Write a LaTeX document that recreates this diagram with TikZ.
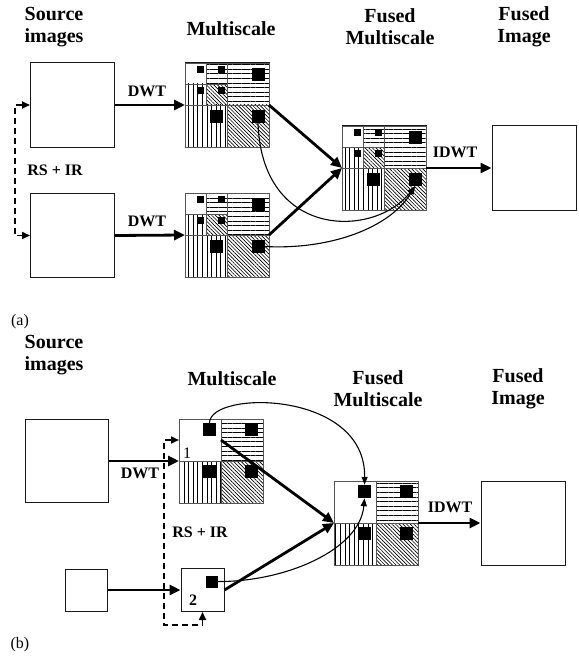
\documentclass[tikz,border=0pt]{standalone}
\usepackage{fontspec}
\setmainfont{Liberation Serif}
\usepackage{xcolor}
\definecolor{Edge}{HTML}{555555}
\definecolor{Ink}{HTML}{1A1A1A}
\usepackage{tikz}
\usetikzlibrary{arrows.meta,patterns.meta}

% two-level decomposition: name, left, top
\newcommand{\gridtwo}[3]{%
  \node[gridframe,minimum size=84pt] (#1) at ({#2+42},{#3+42}) {};
  \node[cell,minimum size=21pt] (#1-ll) at ({#2+10.5},{#3+10.5}) {};
  \node[hcell,minimum size=21pt] (#1-hl2) at ({#2+31.5},{#3+10.5}) {};
  \node[vcell,minimum size=21pt] (#1-lh2) at ({#2+10.5},{#3+31.5}) {};
  \node[dcell,minimum size=21pt] (#1-hh2) at ({#2+31.5},{#3+31.5}) {};
  \node[hcell,minimum size=42pt] (#1-hl1) at ({#2+63},{#3+21}) {};
  \node[vcell,minimum size=42pt] (#1-lh1) at ({#2+21},{#3+63}) {};
  \node[dcell,minimum size=42pt] (#1-hh1) at ({#2+63},{#3+63}) {};
  \node[sqsmall] (#1-sll) at ({#2+15.5},{#3+6.5}) {};
  \node[sqsmall] (#1-shl2) at ({#2+36.5},{#3+6.5}) {};
  \node[sqsmall] (#1-slh2) at ({#2+15.5},{#3+27.5}) {};
  \node[sqsmall] (#1-shh2) at ({#2+36.5},{#3+27.5}) {};
  \node[sqbig] (#1-shl1) at ({#2+73},{#3+11.5}) {};
  \node[sqbig] (#1-slh1) at ({#2+31},{#3+53.5}) {};
  \node[sqbig] (#1-shh1) at ({#2+73},{#3+53.5}) {};
}
% one-level decomposition: name, left, top
\newcommand{\gridone}[3]{%
  \node[gridframe,minimum size=84pt] (#1) at ({#2+42},{#3+42}) {};
  \node[cell,minimum size=42pt] (#1-ll) at ({#2+21},{#3+21}) {};
  \node[hcell,minimum size=42pt] (#1-hl) at ({#2+63},{#3+21}) {};
  \node[vcell,minimum size=42pt] (#1-lh) at ({#2+21},{#3+63}) {};
  \node[dcell,minimum size=42pt] (#1-hh) at ({#2+63},{#3+63}) {};
  \node[sqbig] (#1-sll) at ({#2+30.5},{#3+10.5}) {};
  \node[sqbig] (#1-shl) at ({#2+72.5},{#3+10.5}) {};
  \node[sqbig] (#1-slh) at ({#2+30.5},{#3+52.5}) {};
  \node[sqbig] (#1-shh) at ({#2+72.5},{#3+52.5}) {};
}

\begin{document}
\begin{tikzpicture}[x=1pt,y=-1pt,
  heading/.style={font=\fontsize{20}{22}\selectfont\bfseries,align=center,inner sep=0pt},
  tag/.style={font=\fontsize{16}{18}\selectfont\bfseries,inner sep=0pt},
  caption/.style={font=\fontsize{16}{18}\selectfont,inner sep=0pt},
  imgbox/.style={draw=Ink,line width=1pt,fill=white,inner sep=0pt,minimum size=84pt},
  gridframe/.style={draw=Ink,line width=1pt,inner sep=0pt,outer sep=0pt},
  cell/.style={draw=Edge,line width=0.9pt,inner sep=0pt,outer sep=0pt},
  hcell/.style={cell,pattern={Lines[angle=0,distance=4.6pt,line width=0.7pt]}},
  vcell/.style={cell,pattern={Lines[angle=90,distance=4.6pt,line width=0.7pt]}},
  dcell/.style={cell,pattern={Lines[angle=-45,distance=2.6pt,line width=0.65pt]}},
  sqsmall/.style={fill=black,inner sep=0pt,minimum size=7pt},
  sqbig/.style={fill=black,inner sep=0pt,minimum size=13pt},
  arrow/.style={-{Triangle[length=11pt,width=10pt]},line width=2.8pt},
  thinarrow/.style={-{Triangle[length=8pt,width=6pt]},line width=1.1pt},
  dasharrow/.style={{Triangle[length=8pt,width=7pt]}-{Triangle[length=8pt,width=7pt]},line width=1.8pt,dash pattern=on 6pt off 4pt}
]
  \useasboundingbox (0,0) rectangle (578,658);

  % (a)
  \node[heading] (srcHeadA) at (54,27) {Source\\images};
  \node[heading] (msHeadA) at (231,29) {Multiscale};
  \node[heading] (fmsHeadA) at (390,27) {Fused\\Multiscale};
  \node[heading] (fimHeadA) at (524,27) {Fused\\Image};

  \node[imgbox] (srcA1) at (72.5,105) {};
  \node[imgbox] (srcA2) at (72.5,235.5) {};
  \gridtwo{a1}{185}{63}
  \gridtwo{a2}{185}{193}
  \gridtwo{fA}{342}{126}
  \node[imgbox] (fimgA) at (534,168) {};

  \node[tag] (dwtA1) at (147,91) {DWT};
  \node[tag] (dwtA2) at (147,221) {DWT};
  \node[tag] (idwtA) at (455,152) {IDWT};
  \node[tag] (rsirA) at (55,170) {RS + IR};
  \node[caption] (capA) at (20,322) {(a)};
  \coordinate (rsA) at (15,170);

  \draw[arrow] (srcA1.east) -- (a1.west);
  \draw[arrow] (srcA2.east) -- (a2.west);
  \draw[arrow] (a1.east) -- (fA.west);
  \draw[arrow] (a2.east) -- (fA.west);
  \draw[arrow] (fA.east) -- (fimgA.west);
  \draw[thinarrow] (a1-shh1.south) .. controls (262,240) and (375,238) .. (fA-shh1.south);
  \draw[thinarrow] (a2-shh1.east) .. controls (330,250) and (390,228) .. (fA-shh1.south);
  \draw[dasharrow] (srcA1.west) -| (rsA) |- (srcA2.west);

  % (b)
  \node[heading] (srcHeadB) at (54,355) {Source\\images};
  \node[heading] (msHeadB) at (232,379) {Multiscale};
  \node[heading] (fmsHeadB) at (378,389) {Fused\\Multiscale};
  \node[heading] (fimHeadB) at (518,389) {Fused\\Image};

  \node[imgbox,minimum size=83pt] (srcB1) at (67,461) {};
  \node[imgbox,minimum size=42pt] (srcB2) at (86,590) {};
  \gridone{b1}{179}{419}
  \node[caption] (b1-num) at (187,453) {1};
  \node[imgbox,minimum size=43pt] (b2) at (202.5,590) {};
  \node[sqbig,minimum size=12pt] (b2-s) at (211.5,581.5) {};
  \node[tag] (b2-num) at (193,600) {2};
  \gridone{fB}{334}{481}
  \node[imgbox] (fimgB) at (523,523) {};

  \node[tag] (dwtB) at (140,473) {DWT};
  \node[tag] (idwtB) at (450,507) {IDWT};
  \node[tag] (rsirB) at (200,532) {RS + IR};
  \node[caption] (capB) at (20,645) {(b)};
  \coordinate (rsB) at (164,625);

  \draw[arrow] (srcB1.east) -- (b1.west);
  \draw[arrow] (srcB2.east) -- (b2.west);
  \draw[arrow] (b1-ll.east) -- (fB.west);
  \draw[arrow] (b2.east) -- (fB.west);
  \draw[arrow] (fB.east) -- (fimgB.west);
  \draw[thinarrow] (b1-sll.north) .. controls (210,390) and (366,390) .. (fB-sll.north);
  \draw[thinarrow] (b2-s.east) .. controls (285,582) and (360,550) .. (fB-sll.south);
  \draw[dasharrow] (b1-ll.west) -| (rsB) -| (b2.south);
\end{tikzpicture}
\end{document}
